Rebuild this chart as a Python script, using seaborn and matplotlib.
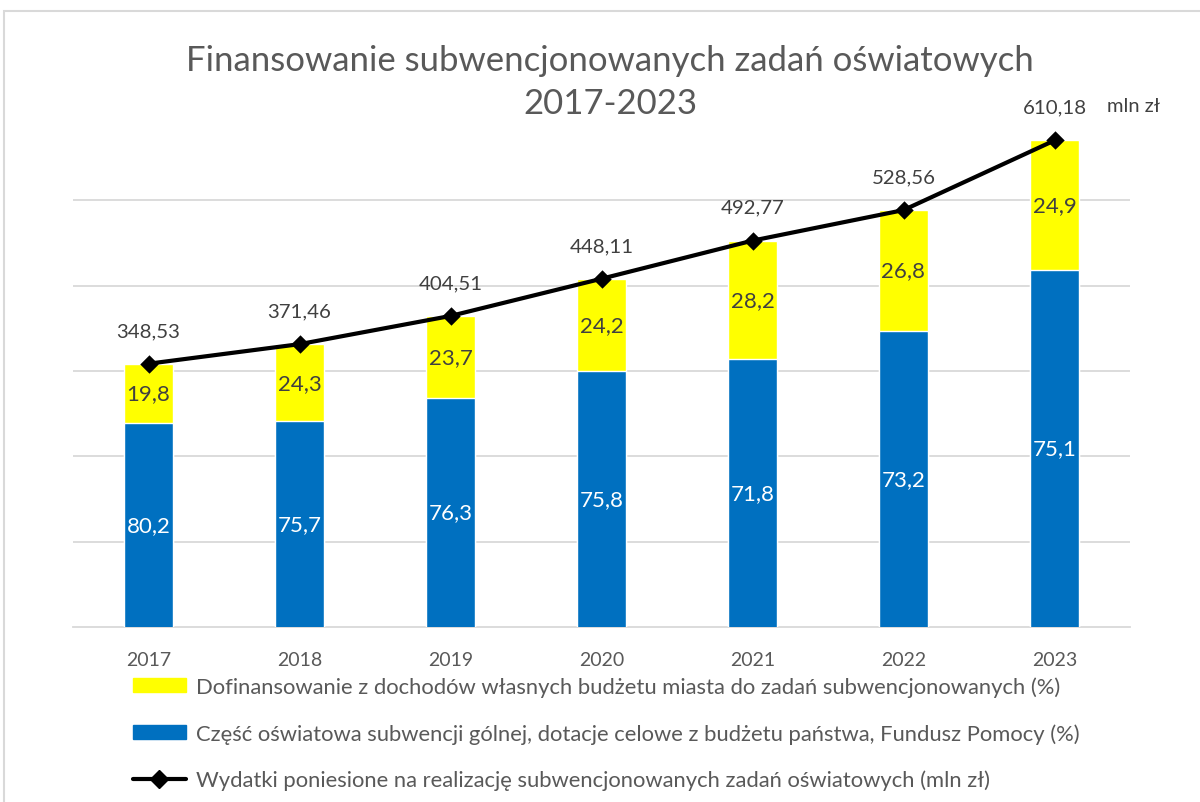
import numpy as np
import pandas as pd
import matplotlib
matplotlib.use('Agg')
import matplotlib.pyplot as plt
import seaborn as sns
from matplotlib.patches import Rectangle, Patch
from matplotlib.lines import Line2D

# Data
years = ['2017', '2018', '2019', '2020', '2021', '2022', '2023']
totals = [348.53, 371.46, 404.51, 448.11, 492.77, 528.56, 610.18]  # mln zł
pct_state = [80.2, 75.7, 76.3, 75.8, 71.8, 73.2, 75.1]   # blue
pct_city = [19.8, 24.3, 23.7, 24.2, 28.2, 26.8, 24.9]    # yellow

label_city = 'Dofinansowanie z dochodów własnych budżetu miasta do zadań subwencjonowanych (%)'
label_state = 'Część oświatowa subwencji gólnej, dotacje celowe z budżetu państwa, Fundusz Pomocy (%)'
label_total = 'Wydatki poniesione na realizację subwencjonowanych zadań oświatowych (mln zł)'

df = pd.DataFrame({'year': years, 'total': totals,
                   'state': pct_state, 'city': pct_city})
df['state_val'] = df['total'] * df['state'] / 100

sns.set_style('white')
plt.rcParams['font.family'] = ['Lato', 'DejaVu Sans']

BLUE = '#0070C0'
YELLOW = '#FFFF00'
GRAY_TXT = '#595959'
GRID = '#D9D9D9'
YMIN, YMAX = 40, 640

fig = plt.figure(figsize=(12, 8.03), dpi=100)
ax = fig.add_axes([73 / 1200, 1 - 628 / 803, 1057 / 1200, (628 - 116) / 803])

# outer chart frame
fig.patches.append(Rectangle((4 / 1200, -0.1), 1.2, 1.1 - 12 / 803,
                             transform=fig.transFigure, fill=False,
                             edgecolor=GRID, linewidth=1.5))

# stacked bars: full total in yellow, state part in blue on top
sns.barplot(data=df, x='year', y='total', color=YELLOW, width=0.32,
            saturation=1, ax=ax, zorder=2)
sns.barplot(data=df, x='year', y='state_val', color=BLUE, width=0.32,
            saturation=1, ax=ax, zorder=3)
sns.pointplot(data=df, x='year', y='total', color='black', markers='D',
              linestyles='-', markersize=7, linewidth=3, ax=ax, zorder=5)

ax.set_ylim(YMIN, YMAX)
ax.set_xlim(-0.5, 6.5)
ax.set_yticks(np.arange(140, 541, 100))
ax.yaxis.grid(True, color=GRID, linewidth=1.3, zorder=0)
ax.set_axisbelow(True)
ax.tick_params(axis='y', left=False, labelleft=False)
for s in ['top', 'right', 'left']:
    ax.spines[s].set_visible(False)
ax.spines['bottom'].set_color(GRID)
ax.spines['bottom'].set_linewidth(1.3)
ax.spines['bottom'].set_zorder(1)

ax.set_xticks(np.arange(-0.5, 7, 1), minor=True)
ax.tick_params(axis='x', which='minor', length=8, color=GRID, width=1.3)
ax.tick_params(axis='x', which='major', length=0, labelsize=14,
               labelcolor=GRAY_TXT, pad=17)
ax.set_xlabel('')
ax.set_ylabel('')

# segment labels and totals
for i, r in df.iterrows():
    ax.text(i, (YMIN + r['state_val']) / 2, f"{r['state']:.1f}".replace('.', ','),
            ha='center', va='center', color='white', fontsize=16, zorder=6)
    ax.text(i, (r['state_val'] + r['total']) / 2, f"{r['city']:.1f}".replace('.', ','),
            ha='center', va='center', color='#404040', fontsize=16, zorder=6)
    ax.annotate(f"{r['total']:.2f}".replace('.', ','), (i, r['total']),
                xytext=(0, 24), textcoords='offset points', ha='center',
                va='center', color='#404040', fontsize=14.7, annotation_clip=False)
ax.annotate('mln zł', (6, totals[-1]), xytext=(57, 25), textcoords='offset points',
            ha='center', va='center', color='#404040', fontsize=14.5,
            annotation_clip=False)

fig.text(610 / 1200, 1 - 61 / 803, 'Finansowanie subwencjonowanych zadań oświatowych',
         ha='center', va='center', fontsize=25, color=GRAY_TXT)
fig.text(610 / 1200, 1 - 104 / 803, '2017-2023',
         ha='center', va='center', fontsize=25, color=GRAY_TXT)

handles = [Patch(color=YELLOW), Patch(color=BLUE),
           Line2D([0], [0], color='black', lw=3, marker='D', markersize=9)]
fig.legend(handles, [label_city, label_state, label_total],
           loc='upper left', bbox_to_anchor=(133 / 1200, 1 - 677 / 803),
           borderaxespad=0, borderpad=0,
           frameon=False, fontsize=15.8, labelcolor=GRAY_TXT, labelspacing=1.2,
           handlelength=2.4, handleheight=0.6, handletextpad=0.45)

fig.savefig('out.png', dpi=100)
